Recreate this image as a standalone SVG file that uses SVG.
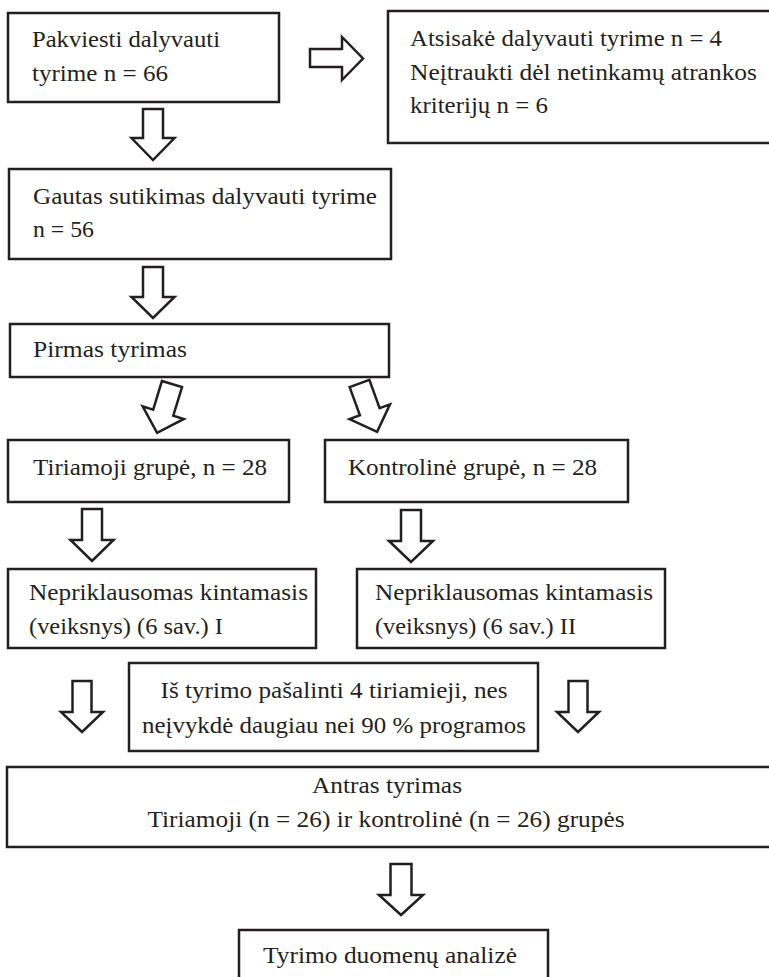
<svg xmlns="http://www.w3.org/2000/svg" width="769" height="977" viewBox="0 0 769 977">
<style>
.box{fill:#fff;stroke:#231f20;stroke-width:2.5}
.arr{fill:#fff;stroke:#231f20;stroke-width:2.5;stroke-linejoin:miter}
text{font-family:'Liberation Serif','Times New Roman',serif;font-size:23px;fill:#231f20}
.c{text-anchor:middle}
</style>
<rect width="769" height="977" fill="#fff"/>
<g id="n1"><rect class="box" x="8" y="13" width="271" height="89"/>
<text x="32" y="47" textLength="188" lengthAdjust="spacingAndGlyphs">Pakviesti dalyvauti</text>
<text x="32" y="81" textLength="136" lengthAdjust="spacingAndGlyphs">tyrime n = 66</text></g>
<g id="n2"><rect class="box" x="388" y="11" width="390" height="132"/>
<text x="410" y="46" textLength="312" lengthAdjust="spacingAndGlyphs">Atsisakė dalyvauti tyrime n = 4</text>
<text x="410" y="80" textLength="347" lengthAdjust="spacingAndGlyphs">Neįtraukti dėl netinkamų atrankos</text>
<text x="410" y="113" textLength="138" lengthAdjust="spacingAndGlyphs">kriterijų n = 6</text></g>
<g id="n3"><rect class="box" x="9" y="169" width="382" height="90"/>
<text x="33" y="204" textLength="344" lengthAdjust="spacingAndGlyphs">Gautas sutikimas dalyvauti tyrime</text>
<text x="33" y="237" textLength="61" lengthAdjust="spacingAndGlyphs">n = 56</text></g>
<g id="n4"><rect class="box" x="10" y="324" width="379" height="53"/>
<text x="33" y="357" textLength="154" lengthAdjust="spacingAndGlyphs">Pirmas tyrimas</text></g>
<g id="n5"><rect class="box" x="8" y="440" width="281" height="62"/>
<text x="33" y="475" textLength="234" lengthAdjust="spacingAndGlyphs">Tiriamoji grupė, n = 28</text></g>
<g id="n6"><rect class="box" x="325" y="440" width="303" height="62"/>
<text x="348" y="475" textLength="249" lengthAdjust="spacingAndGlyphs">Kontrolinė grupė, n = 28</text></g>
<g id="n7"><rect class="box" x="8" y="569" width="308" height="79"/>
<text x="29" y="600" textLength="279" lengthAdjust="spacingAndGlyphs">Nepriklausomas kintamasis</text>
<text x="29" y="634" textLength="194" lengthAdjust="spacingAndGlyphs">(veiksnys) (6 sav.) I</text></g>
<g id="n8"><rect class="box" x="357" y="569" width="308" height="79"/>
<text x="375" y="600" textLength="278" lengthAdjust="spacingAndGlyphs">Nepriklausomas kintamasis</text>
<text x="375" y="634" textLength="201" lengthAdjust="spacingAndGlyphs">(veiksnys) (6 sav.) II</text></g>
<g id="n9"><rect class="box" x="129" y="663" width="409" height="88"/>
<text class="c" x="334" y="698" textLength="347" lengthAdjust="spacingAndGlyphs">Iš tyrimo pašalinti 4 tiriamieji, nes</text>
<text class="c" x="334" y="733" textLength="384" lengthAdjust="spacingAndGlyphs">neįvykdė daugiau nei 90 % programos</text></g>
<g id="n10"><rect class="box" x="7" y="767" width="775" height="80"/>
<text class="c" x="387" y="793" textLength="150" lengthAdjust="spacingAndGlyphs">Antras tyrimas</text>
<text class="c" x="386" y="827" textLength="477" lengthAdjust="spacingAndGlyphs">Tiriamoji (n = 26) ir kontrolinė (n = 26) grupės</text></g>
<g id="n11"><rect class="box" x="239" y="930" width="309" height="60"/>
<text class="c" x="390" y="963" textLength="254" lengthAdjust="spacingAndGlyphs">Tyrimo duomenų analizė</text></g>
<g id="connectors">
<polygon class="arr" points="310,49 342,49 342,37 363,58.5 342,80 342,67 310,67"/>
<polygon class="arr" points="143,109 163,109 163,138 174.5,138 153,160 131.5,138 143,138"/>
<polygon class="arr" points="143,267 163,267 163,297 174.5,297 153,318 131.5,297 143,297"/>
<polygon class="arr" transform="translate(172,384) rotate(17)" points="-10.5,0 10.5,0 10.5,30 21.5,30 0,51 -21.5,30 -10.5,30"/>
<polygon class="arr" transform="translate(359.5,383.5) rotate(-20)" points="-10.5,0 10.5,0 10.5,30 21.5,30 0,51.5 -21.5,30 -10.5,30"/>
<polygon class="arr" points="82,509 102,509 102,540 113.5,540 92,561 70.5,540 82,540"/>
<polygon class="arr" points="401,510 421,510 421,541 433,541 411,562 389,541 401,541"/>
<polygon class="arr" points="72.5,681 91.5,681 91.5,712 103,712 82,732 61,712 72.5,712"/>
<polygon class="arr" points="568.5,681 587.5,681 587.5,712 599,712 578,732 557,712 568.5,712"/>
<polygon class="arr" points="390.5,864 411.5,864 411.5,895 423,895 401,915 379,895 390.5,895"/>
</g>
</svg>
